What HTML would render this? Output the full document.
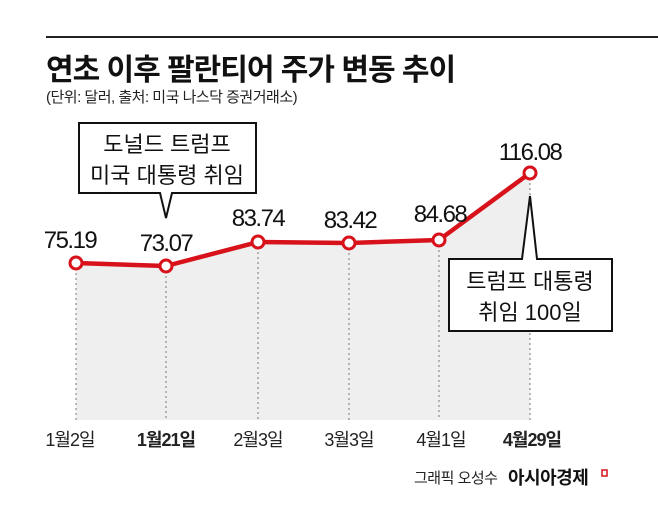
<!DOCTYPE html>
<html><head><meta charset="utf-8"><style>
body{margin:0;background:#fff;}
svg text{font-family:"Liberation Sans","Noto Sans CJK KR",sans-serif;}
</style></head><body>
<svg width="658" height="504" viewBox="0 0 658 504" xmlns="http://www.w3.org/2000/svg">
<rect width="658" height="504" fill="#fff"/>
<line x1="46" y1="37" x2="658" y2="37" stroke="#222" stroke-width="2"/>
<text x="46" y="80" font-size="30" font-weight="bold" fill="#111" letter-spacing="-1">연초 이후 팔란티어 주가 변동 추이</text>
<text x="46" y="102" font-size="15" fill="#222" letter-spacing="-0.5">(단위: 달러, 출처: 미국 나스닥 증권거래소)</text>
<polygon points="76,263 166,266 258,242 349,243 439,240 530,173 530,420 76,420" fill="#efefef"/>
<g stroke="#777" stroke-width="1" stroke-dasharray="2,3">
<line x1="76" y1="263" x2="76" y2="420"/><line x1="166" y1="266" x2="166" y2="420"/>
<line x1="258" y1="242" x2="258" y2="420"/><line x1="349" y1="243" x2="349" y2="420"/>
<line x1="439" y1="240" x2="439" y2="420"/><line x1="530" y1="173" x2="530" y2="420"/>
</g>
<polyline points="76,263 166,266 258,242 349,243 439,240 530,173" fill="none" stroke="#d7121b" stroke-width="4.5" stroke-linejoin="round"/>
<g fill="#fff" stroke="#d7121b" stroke-width="3">
<circle cx="76" cy="263" r="6"/><circle cx="166" cy="266" r="6"/><circle cx="258" cy="242" r="6"/>
<circle cx="349" cy="243" r="6"/><circle cx="439" cy="240" r="6"/><circle cx="530" cy="173" r="6"/>
</g>
<g font-size="24" fill="#111" text-anchor="middle" letter-spacing="-1.5">
<text x="70" y="248">75.19</text><text x="166" y="251">73.07</text><text x="258" y="226">83.74</text>
<text x="350" y="228">83.42</text><text x="440" y="222">84.68</text><text x="530" y="160">116.08</text>
</g>
<path d="M79,123 H256 V193 H172 L166,218 L160,193 H79 Z" fill="#fff" stroke="#111" stroke-width="2"/>
<text x="167" y="152" font-size="22" text-anchor="middle" fill="#111">도널드 트럼프</text>
<text x="167" y="183" font-size="22" text-anchor="middle" fill="#111">미국 대통령 취임</text>
<path d="M449,259 H522 L530,196 L537,259 H612 V331 H449 Z" fill="#fff" stroke="#111" stroke-width="2"/>
<text x="530" y="289" font-size="22" text-anchor="middle" fill="#111">트럼프 대통령</text>
<text x="530" y="320" font-size="22" text-anchor="middle" fill="#111">취임 100일</text>
<g font-size="18" fill="#222" text-anchor="middle" letter-spacing="-1">
<text x="70" y="446">1월2일</text><text x="166" y="446" font-weight="bold">1월21일</text>
<text x="258" y="446">2월3일</text><text x="349" y="446">3월3일</text>
<text x="441" y="446">4월1일</text><text x="532" y="446" font-weight="bold">4월29일</text>
</g>
<text x="414" y="483" font-size="15" fill="#222" letter-spacing="-0.5">그래픽 오성수</text>
<text x="508" y="484" font-size="18" font-weight="bold" fill="#111" letter-spacing="-0.5">아시아경제</text>
<rect x="602" y="470" width="5" height="6" fill="none" stroke="#d7121b" stroke-width="1.5"/>
</svg>
</body></html>
